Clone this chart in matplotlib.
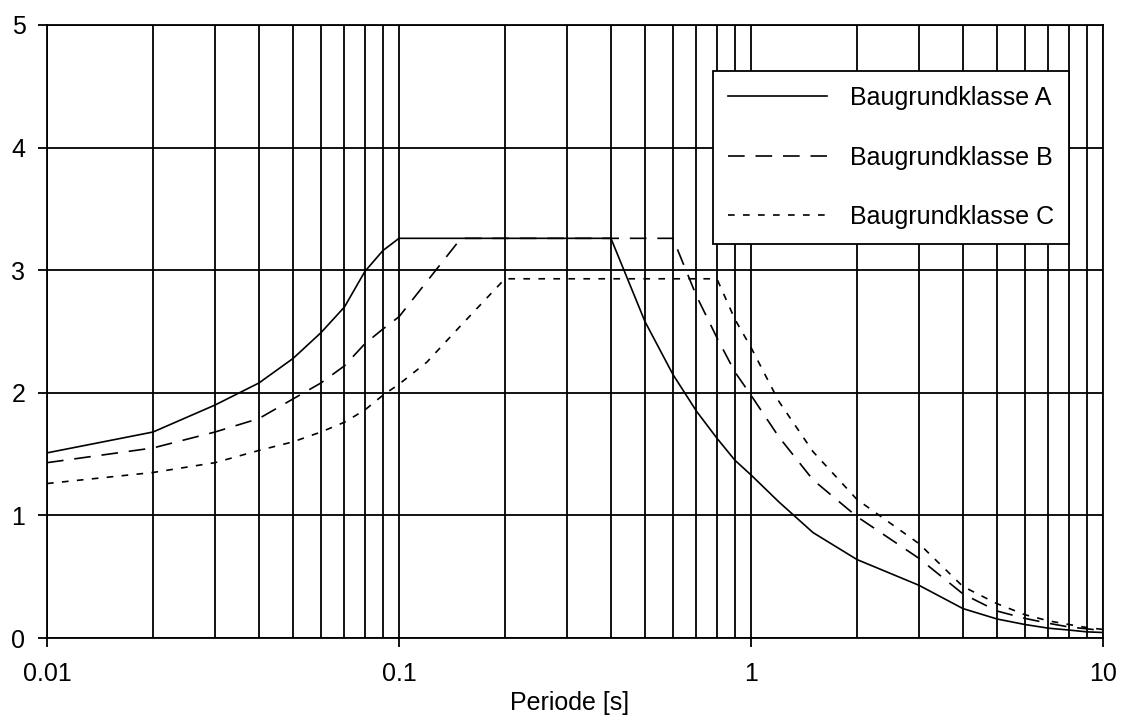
import matplotlib
matplotlib.use("Agg")
import matplotlib.pyplot as plt
from matplotlib.ticker import FixedLocator, NullFormatter, NullLocator

plt.rcParams['font.family'] = ['Liberation Sans', 'DejaVu Sans']

T_A = [0.01, 0.02, 0.03, 0.04, 0.05, 0.06, 0.07, 0.08, 0.09, 0.1,
       0.4, 0.5, 0.6, 0.7, 0.8, 0.9, 1.0, 1.2, 1.5, 2, 3, 4, 5, 6, 7, 8, 9, 10]
A = [1.51, 1.68, 1.90, 2.08, 2.28, 2.49, 2.70, 2.99, 3.16, 3.26,
     3.26, 2.58, 2.15, 1.85, 1.63, 1.45, 1.33, 1.11, 0.86, 0.64, 0.43, 0.24, 0.155, 0.11, 0.08, 0.065, 0.05, 0.045]

T_B = [0.01, 0.02, 0.03, 0.04, 0.05, 0.06, 0.07, 0.08, 0.09, 0.1,
       0.15, 0.6, 0.7, 0.8, 0.9, 1.0, 1.2, 1.5, 2, 3, 4, 5, 6, 7, 8, 9, 10]
B = [1.43, 1.55, 1.68, 1.79, 1.95, 2.08, 2.22, 2.40, 2.52, 2.62,
     3.26, 3.26, 2.79, 2.45, 2.17, 1.98, 1.64, 1.29, 0.99, 0.65, 0.36, 0.22, 0.16, 0.12, 0.09, 0.075, 0.06]

T_C = [0.01, 0.02, 0.03, 0.04, 0.05, 0.06, 0.07, 0.08, 0.09, 0.1,
       0.12, 0.15, 0.2, 0.8, 0.9, 1.0, 1.2, 1.5, 2, 3, 4, 5, 6, 7, 8, 9, 10]
C = [1.26, 1.35, 1.43, 1.53, 1.60, 1.68, 1.76, 1.86, 1.98, 2.07,
     2.25, 2.55, 2.93, 2.93, 2.60, 2.37, 1.93, 1.52, 1.13, 0.77, 0.42, 0.28, 0.19, 0.14, 0.11, 0.085, 0.07]

labels = ["Baugrundklasse A", "Baugrundklasse B", "Baugrundklasse C"]
x_major = [0.01, 0.1, 1, 10]
x_major_labels = ["0.01", "0.1", "1", "10"]
y_ticks = [0, 1, 2, 3, 4, 5]

FS = 18

fig = plt.figure(figsize=(11.28, 7.23), dpi=100)
ax = fig.add_axes([47/1128, 85/723, 1056/1128, 613/723])
ax.set_xscale('log')
ax.set_xlim(0.01, 10)
ax.set_ylim(0, 5)

# grid lines (major + minor verticals, horizontals)
minor = [m * d for d in [0.01, 0.1, 1] for m in range(2, 10)]
for xv in minor + x_major:
    ax.axvline(xv, color='black', lw=1.3, zorder=1)
for yv in y_ticks:
    ax.axhline(yv, color='black', lw=1.3, zorder=1)

lw = 1.2
ax.plot(T_A, A, color='black', lw=lw, label=labels[0], zorder=3)
ax.plot(T_B, B, color='black', lw=lw, dashes=(10, 6.5), label=labels[1], zorder=3)
ax.plot(T_C, C, color='black', lw=lw, dashes=(4, 5), label=labels[2], zorder=3)

ax.xaxis.set_major_locator(FixedLocator(x_major))
ax.set_xticklabels(x_major_labels)
ax.xaxis.set_minor_locator(NullLocator())
ax.xaxis.set_minor_formatter(NullFormatter())
ax.set_yticks(y_ticks)
ax.set_yticklabels([str(v) for v in y_ticks])
ax.tick_params(axis='both', direction='out', length=6.5, width=1.3, color='black',
               labelsize=FS)
ax.tick_params(axis='x', pad=11)
ax.tick_params(axis='y', pad=9)
for s in ax.spines.values():
    s.set_color('black')
    s.set_linewidth(1.3)

ax.set_xlabel("Periode [s]", fontsize=FS)
ax.xaxis.set_label_coords((570 - 47) / 1056, (638 - 703) / 613)
ax.xaxis.label.set_va('center')

leg = ax.legend(loc='upper left', bbox_to_anchor=(713/1128, 1 - 71/723),
                bbox_transform=fig.transFigure, fontsize=FS, frameon=True,
                fancybox=False, edgecolor='black', framealpha=1,
                handlelength=3.96, handletextpad=0.92, labelspacing=1.42,
                borderpad=0.6, borderaxespad=0)
leg.get_frame().set_linewidth(1.3)
leg.set_zorder(5)

fig.savefig("out.png", dpi=100)
